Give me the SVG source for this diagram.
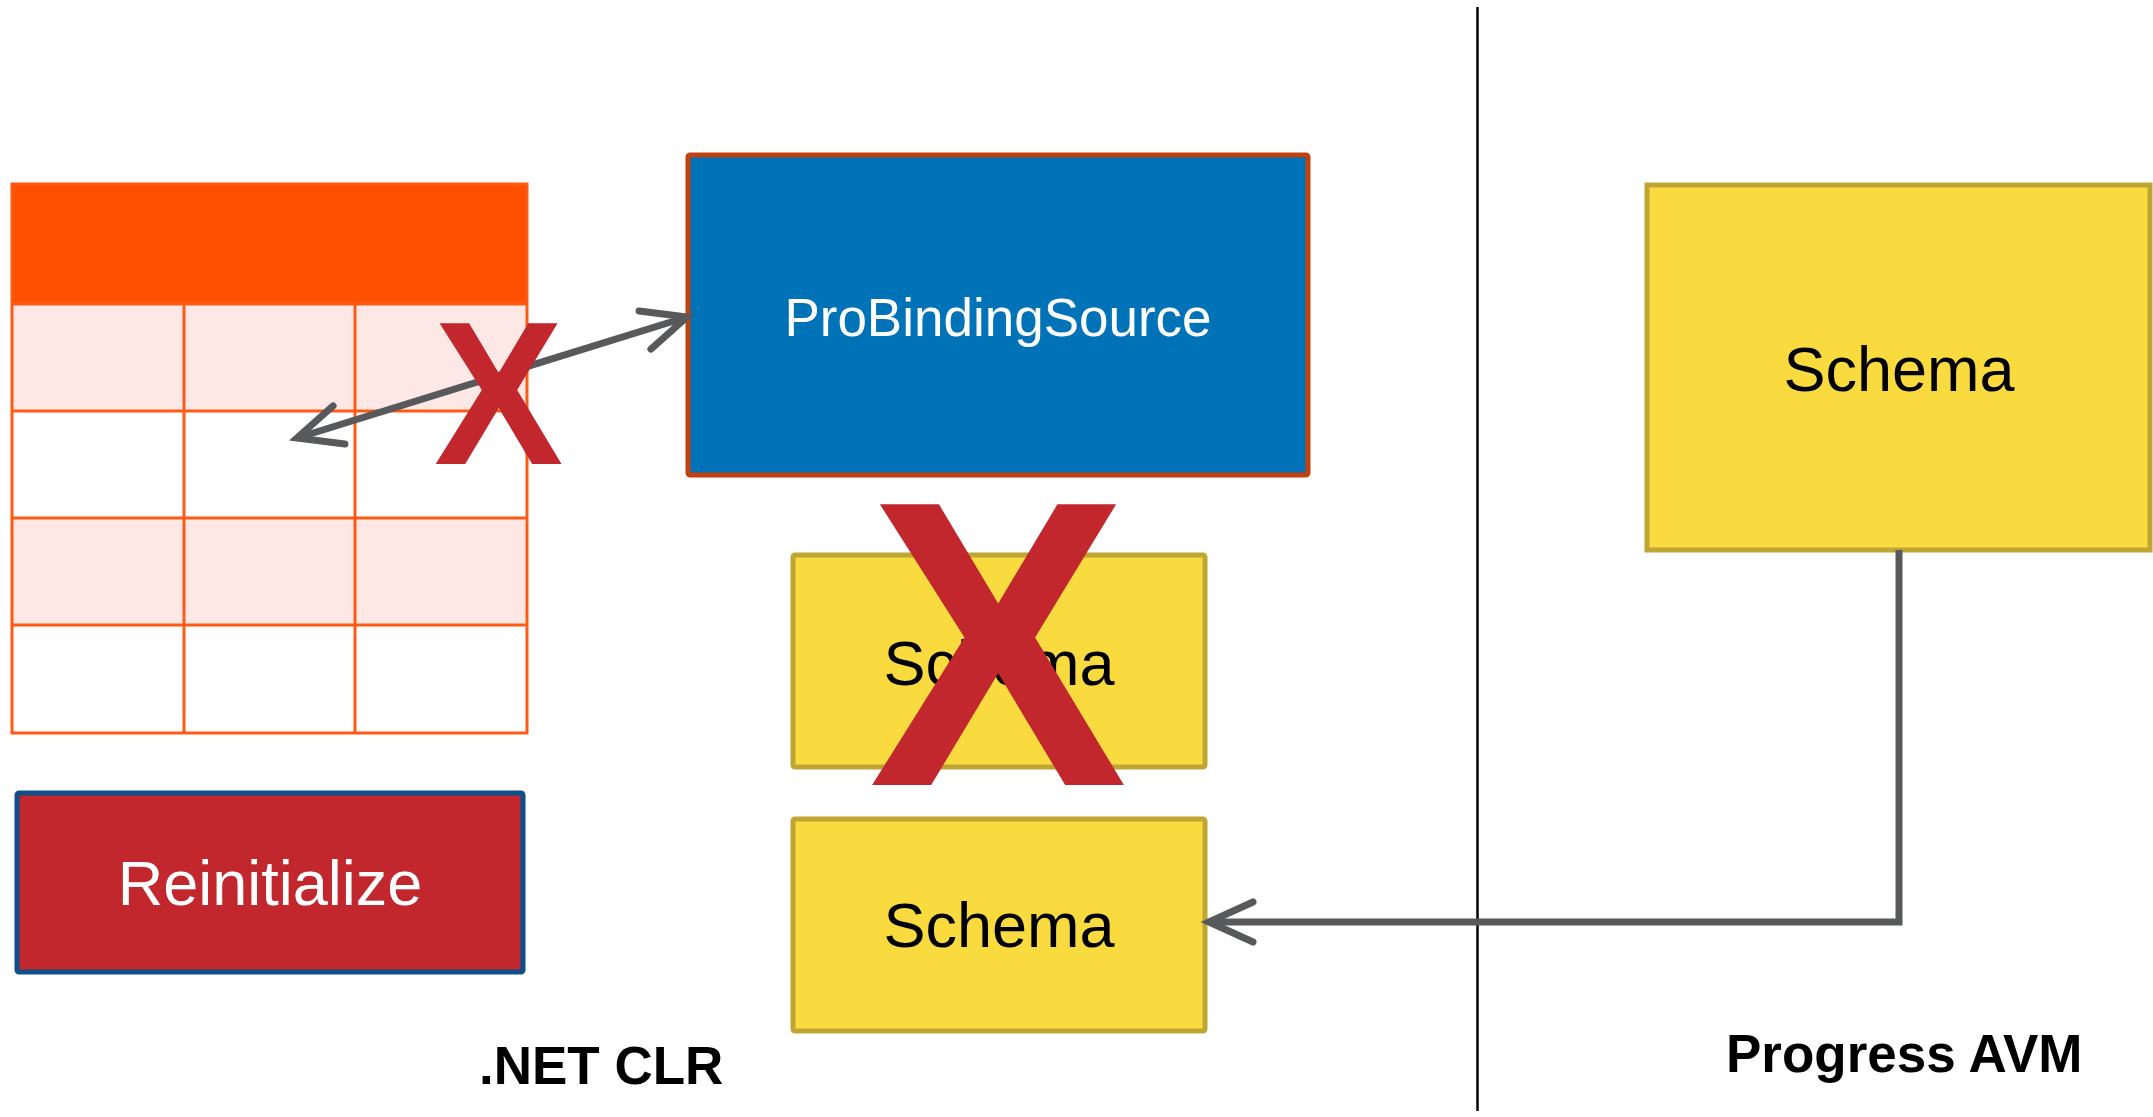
<svg xmlns="http://www.w3.org/2000/svg" width="2153" height="1117" viewBox="0 0 2153 1117">
  <style>
    .sans { font-family: "Liberation Sans", Arial, sans-serif; }
    .grid { fill: none; stroke: #FF5A14; stroke-width: 3; }
    .schema rect { fill: #FADB3F; stroke: #BFA532; stroke-width: 5; }
    .schema text { font-size: 63px; fill: #000000; text-anchor: middle; }
    .link { fill: none; stroke: #58595B; stroke-width: 7; }
    .cross { fill: #C1272D; text-anchor: middle; font-weight: bold; }
    .zone { font-size: 53px; font-weight: bold; fill: #000000; }
  </style>
  <defs>
    <marker id="open-head" markerUnits="userSpaceOnUse" markerWidth="60" markerHeight="60" viewBox="-50 -30 60 60" refX="0" refY="0" orient="auto-start-reverse" overflow="visible">
      <path d="M -44 -20 L 0 0 L -44 20" fill="none" stroke="#58595B" stroke-width="7" stroke-linecap="round" stroke-linejoin="miter"/>
    </marker>
  </defs>

  <rect x="0" y="0" width="2153" height="1117" fill="#FFFFFF"/>

  <!-- divider between the two runtimes -->
  <line x1="1477.5" y1="7" x2="1477.5" y2="1111" stroke="#000000" stroke-width="2.5"/>

  <!-- data grid -->
  <g id="grid">
    <rect x="12" y="184" width="515" height="120" fill="#FF5000"/>
    <rect x="12" y="304" width="515" height="107" fill="#FDE8E6"/>
    <rect x="12" y="518" width="515" height="107" fill="#FDE8E6"/>
    <path class="grid" d="M12 304 H527 M12 411 H527 M12 518 H527 M12 625 H527 M184 304 V733 M355 304 V733"/>
    <rect class="grid" x="12" y="184" width="515" height="549"/>
  </g>

  <g id="probindingsource">
    <rect x="688" y="155" width="620" height="320" rx="2" fill="#0072B8" stroke="#C0400F" stroke-width="5"/>
    <text class="sans" x="998" y="336" font-size="53" fill="#FFFFFF" text-anchor="middle">ProBindingSource</text>
  </g>

  <g id="schema-old" class="schema sans">
    <rect x="793" y="555" width="412" height="212" rx="2"/>
    <text x="999" y="685">Schema</text>
  </g>

  <g id="schema-new" class="schema sans">
    <rect x="793" y="819" width="412" height="212" rx="2"/>
    <text x="999" y="947">Schema</text>
  </g>

  <g id="schema-avm" class="schema sans">
    <rect x="1647" y="185" width="503" height="365"/>
    <text x="1899" y="391">Schema</text>
  </g>

  <g id="reinitialize">
    <rect x="17" y="793" width="506" height="179" rx="2" fill="#C1272D" stroke="#0D4F8B" stroke-width="5"/>
    <text class="sans" x="270" y="905" font-size="63" fill="#FFFFFF" text-anchor="middle">Reinitialize</text>
  </g>

  <g id="connectors">
    <line class="link" x1="687" y1="317" x2="297" y2="438" marker-start="url(#open-head)" marker-end="url(#open-head)"/>
    <polyline class="link" points="1899,550 1899,922 1209,922" marker-end="url(#open-head)"/>
  </g>

  <!-- strike-through marks -->
  <g id="marks" class="sans">
    <text class="cross" transform="translate(498.5,464) scale(0.95,1)" font-size="204">X</text>
    <text class="cross" transform="translate(998,785) scale(0.95,1)" font-size="408">X</text>
  </g>

  <g id="labels" class="sans">
    <text class="zone" x="479" y="1084">.NET CLR</text>
    <text class="zone" x="1726" y="1072">Progress AVM</text>
  </g>
</svg>
